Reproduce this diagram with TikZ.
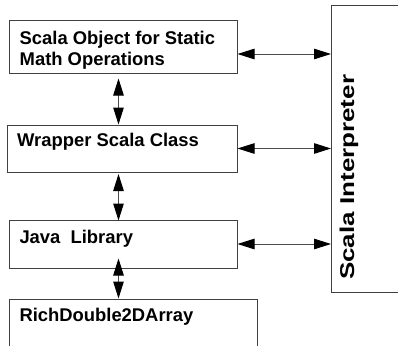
\documentclass[tikz,border=0pt]{standalone}
\usepackage{fontspec}
\setmainfont{Liberation Sans}
\usetikzlibrary{arrows.meta,calc}
\begin{document}
\begin{tikzpicture}[x=1pt,y=1pt,
  box/.style={draw=black!75,line width=1pt,rectangle,inner sep=0pt},
  lbl/.style={anchor=base west,inner sep=0pt,font=\fontsize{18.4}{20.7}\selectfont\bfseries},
  arr/.style={draw=black!70,line width=1pt,{Triangle[length=17pt,width=10.5pt,fill=black,color=black]}-{Triangle[length=17pt,width=10.5pt,fill=black,color=black]}}
]
\clip (0,0) rectangle (398,-345);
\useasboundingbox (0,0) rectangle (398,-345);
\node[box,minimum width=228pt,minimum height=52pt] (b1) at (123,-47) {};
\node[box,minimum width=230pt,minimum height=47pt] (b2) at (122,-148.5) {};
\node[box,minimum width=228pt,minimum height=48pt] (b3) at (123,-244) {};
\node[box,minimum width=248.5pt,minimum height=70pt] (b4) at (133.25,-334) {};
\node[box,minimum width=80pt,minimum height=286pt] (si) at (371.5,-149) {};
\node[lbl] (t1a) at (19.5,-44.3) {Scala Object for Static};
\node[lbl] (t1b) at (19.5,-65) {Math Operations};
\node[lbl] (t2) at (17,-146.7) {Wrapper Scala Class};
\node[lbl] (t3) at (19.3,-243.3) {Java\ \ Library};
\node[lbl] (t4) at (19.3,-321) {RichDouble2DArray};
\node[anchor=base west,inner sep=0pt,rotate=90,font=\fontsize{19.5}{22}\selectfont\bfseries] (tsi) at (354,-280) {\resizebox{205pt}{14.5pt}{Scala Interpreter}};
\coordinate (vx) at (118.5,0);
\draw[arr] ([yshift=-7pt]b1.east) -- ([yshift=-7pt]b1.east -| si.west);
\draw[arr] (b2.east) -- (b2.east -| si.west);
\draw[arr] (b3.east) -- (b3.east -| si.west);
\draw[arr] ([yshift=-5pt]b1.south -| vx) -- (b2.north -| vx);
\draw[arr] ([yshift=-1.5pt]b2.south -| vx) -- ([yshift=-1pt]b3.north -| vx);
\draw[arr] ([yshift=10pt]b3.south -| vx) -- (b4.north -| vx);
\end{tikzpicture}
\end{document}
